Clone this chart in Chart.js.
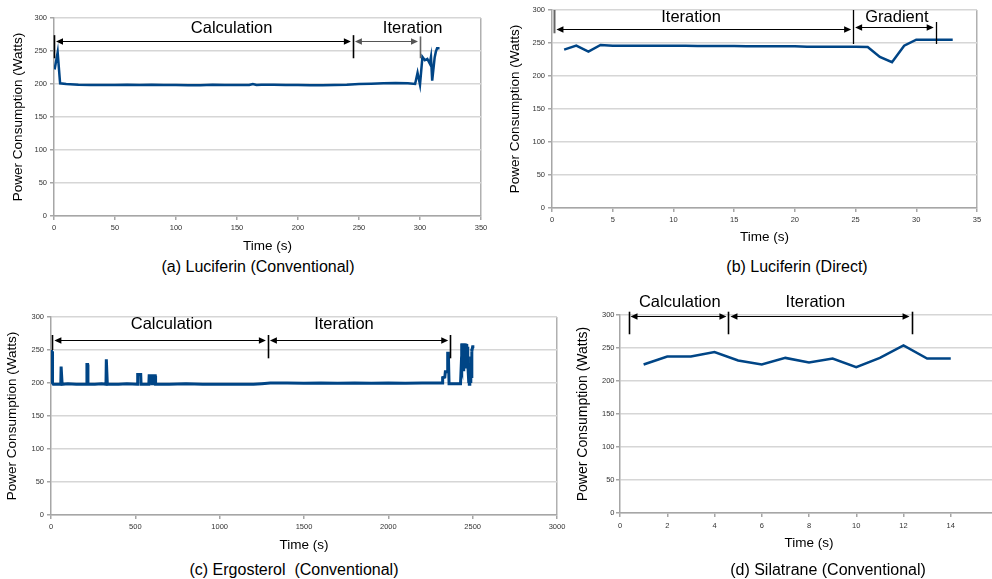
<!DOCTYPE html>
<html>
<head>
<meta charset="utf-8">
<script src="https://cdn.jsdelivr.net/npm/chart.js"></script>
<style>
  html, body { margin: 0; padding: 0; background: #fff; overflow: hidden; width: 992px; height: 579px; }
  canvas { position: absolute; }
  .cap { position: absolute; font: 16px "Liberation Sans", Arial, sans-serif; color: #000; white-space: pre; transform: translateX(-50%); line-height: 16px; }
</style>
</head>
<body>
<canvas id="chartA" width="495" height="254" style="left:0px;top:0px"></canvas>
<canvas id="chartB" width="492" height="245" style="left:497px;top:0px"></canvas>
<canvas id="chartC" width="571" height="263" style="left:0px;top:290px"></canvas>
<canvas id="chartD" width="445" height="261" style="left:565px;top:290px"></canvas>
<div class="cap" style="left:258px;top:259px">(a) Luciferin (Conventional)</div>
<div class="cap" style="left:797px;top:259px">(b) Luciferin (Direct)</div>
<div class="cap" style="left:294px;top:562px">(c) Ergosterol  (Conventional)</div>
<div class="cap" style="left:828px;top:562px">(d) Silatrane (Conventional)</div>
<script>
// (a) Luciferin, conventional run
const timeA = [0.5, 3, 5, 10, 20, 30, 40, 50, 60, 70, 80, 90, 100, 110, 120, 130, 140, 150, 160, 163, 166, 170, 180, 190, 200, 210, 220, 230, 240, 250, 260, 270, 280, 290, 296, 298, 300, 302, 304, 306, 308, 309, 310, 312, 313, 314, 316];
const powerA = [222, 248, 201, 200, 199, 198.5, 198.5, 198.5, 199, 198.5, 199, 198.5, 198.5, 198, 198, 199, 198.5, 198.5, 198.5, 200, 198.5, 199, 199, 198.5, 198.5, 198, 198, 198.5, 199, 200, 200.5, 201, 201.5, 201, 200, 217, 199, 241, 236, 238, 231, 241, 205, 240, 249, 254, 254];

// (b) Luciferin, direct run (one sample per second)
const timeB = [1, 2, 3, 4, 5, 6, 7, 8, 9, 10, 11, 12, 13, 14, 15, 16, 17, 18, 19, 20, 21, 22, 23, 24, 25, 26, 27, 28, 29, 30, 31, 32, 33];
const powerB = [240, 246, 237, 247, 246, 246, 246, 246, 246, 246, 246, 245.5, 245.5, 245.5, 245.5, 245, 245, 245, 245, 245, 244.5, 244.5, 244.5, 244.5, 244.5, 244, 229, 221, 246, 255, 255, 255, 255];

// (c) Ergosterol, conventional run
const timeC = [0, 2, 4, 6, 8, 10, 14, 30, 58, 60, 64, 66, 100, 150, 210, 213, 217, 219, 260, 300, 326, 328, 332, 334, 400, 450, 512, 514, 532, 534, 580, 582, 596, 598, 602, 604, 618, 620, 700, 800, 900, 1000, 1100, 1200, 1250, 1300, 1400, 1500, 1600, 1700, 1800, 1900, 2000, 2100, 2200, 2300, 2320, 2322, 2335, 2338, 2348, 2352, 2356, 2360, 2400, 2428, 2432, 2434, 2436, 2438, 2440, 2442, 2444, 2446, 2448, 2450, 2452, 2454, 2456, 2458, 2460, 2462, 2464, 2466, 2468, 2470, 2472, 2474, 2476, 2478, 2480, 2482, 2484, 2486, 2488, 2490, 2492, 2494, 2496, 2500, 2510];
const powerC = [215, 250, 222, 248, 232, 200, 198, 198, 198, 225, 225, 198, 199, 198, 198, 228, 228, 198, 198, 199, 198, 236, 236, 198, 198, 199, 198, 213, 213, 198, 198, 211, 211, 199, 199, 211, 211, 198, 198, 199, 198, 198, 198, 198, 199, 200, 200, 199.5, 200, 199.5, 200, 199.5, 200, 199.5, 200, 200, 200, 208, 209, 217, 217, 245, 245, 199, 199, 199, 225, 260, 222, 260, 228, 260, 220, 260, 230, 260, 225, 258, 232, 260, 222, 259, 228, 258, 225, 255, 230, 215, 200, 220, 198, 225, 199, 230, 200, 240, 210, 252, 248, 255, 255];

// (d) Silatrane, conventional run
const timeD = [1, 2, 3, 4, 5, 6, 7, 8, 9, 10, 11, 12, 13, 14];
const powerD = [225, 237, 237, 244, 231, 225, 235, 228, 234, 221, 235, 254, 234, 234];

const lineColor = '#004586';
const fontFamily = '"Liberation Sans", Arial, sans-serif';

// phase markers: vertical bars, double arrows and labels, placed in data units
const phasePlugin = {
    id: 'phases',
    afterDraw(chart, args, opts) {
        const ctx = chart.ctx;
        const x = chart.scales.x, y = chart.scales.y;
        ctx.save();
        (opts.bars || []).forEach(b => {
            const px = Math.round(x.getPixelForValue(b.x)) + 0.5;
            ctx.strokeStyle = b.color || '#000';
            ctx.lineWidth = b.width || 1.6;
            ctx.beginPath();
            ctx.moveTo(px, y.getPixelForValue(b.from));
            ctx.lineTo(px, y.getPixelForValue(b.to));
            ctx.stroke();
        });
        (opts.arrows || []).forEach(a => {
            const x1 = x.getPixelForValue(a.from) + 2;
            const x2 = x.getPixelForValue(a.to) - 2;
            const py = Math.round(y.getPixelForValue(a.y)) + 0.5;
            ctx.strokeStyle = a.color || '#000';
            ctx.fillStyle = a.color || '#000';
            ctx.lineWidth = 1.2;
            ctx.beginPath();
            ctx.moveTo(x1 + 4, py);
            ctx.lineTo(x2 - 4, py);
            ctx.stroke();
            ctx.beginPath();
            ctx.moveTo(x1, py);
            ctx.lineTo(x1 + 7, py - 3.2);
            ctx.lineTo(x1 + 7, py + 3.2);
            ctx.closePath();
            ctx.fill();
            ctx.beginPath();
            ctx.moveTo(x2, py);
            ctx.lineTo(x2 - 7, py - 3.2);
            ctx.lineTo(x2 - 7, py + 3.2);
            ctx.closePath();
            ctx.fill();
        });
        ctx.fillStyle = '#000';
        ctx.font = '16.5px ' + fontFamily;
        ctx.textAlign = 'center';
        ctx.textBaseline = 'middle';
        (opts.labels || []).forEach(l => {
            ctx.fillText(l.text, x.getPixelForValue(l.x), y.getPixelForValue(l.y));
        });
        ctx.restore();
    }
};

function makeChart(id, t, p, o) {
    const config = {
        type: 'line',
        data: {
            datasets: [{
                data: t.map((v, i) => ({x: v, y: p[i]})),
                borderColor: lineColor,
                borderWidth: o.lineWidth || 2.5,
                pointRadius: 0,
                tension: 0,
                fill: false
            }]
        },
        options: {
            responsive: false,
            animation: false,
            events: [],
            layout: {padding: {top: o.padTop, right: o.padRight, left: 0, bottom: 0}},
            plugins: {
                legend: {display: false},
                tooltip: {enabled: false},
                phases: o.phases
            },
            scales: {
                x: {
                    type: 'linear',
                    min: 0,
                    max: o.xMax,
                    afterFit: s => { s.height = o.xHeight; },
                    afterBuildTicks: s => {
                        s.ticks = [];
                        for (let v = 0; v <= o.xMax; v += o.xStep) s.ticks.push({value: v});
                    },
                    ticks: {
                        color: '#333',
                        padding: o.xTickPad || 3,
                        maxRotation: 0,
                        autoSkip: false,
                        callback: v => String(v),
                        font: {family: fontFamily, size: 7.5}
                    },
                    grid: {
                        color: c => (c.tick && c.tick.value === o.xMax) ? '#b0b0b0' : 'rgba(0,0,0,0)',
                        lineWidth: 1.5,
                        tickColor: '#a6a6a6',
                        tickLength: 4
                    },
                    border: {color: '#a6a6a6', width: 1.5},
                    title: {
                        display: true,
                        text: 'Time (s)',
                        color: '#000',
                        padding: {top: 0, bottom: 0},
                        font: {family: fontFamily, size: 13.5}
                    }
                },
                y: {
                    min: 0,
                    max: 300,
                    afterFit: s => { s.width = o.yWidth; },
                    ticks: {
                        stepSize: 50,
                        color: '#333',
                        padding: o.yTickPad || 3,
                        callback: v => String(v),
                        font: {family: fontFamily, size: 7.5}
                    },
                    grid: {
                        color: '#d6d6d6',
                        lineWidth: 1.5,
                        tickColor: '#a6a6a6',
                        tickLength: 4
                    },
                    border: {color: '#a6a6a6', width: 1.5},
                    title: {
                        display: true,
                        text: 'Power Consumption (Watts)',
                        color: '#000',
                        padding: {top: o.yTitlePad, bottom: 0},
                        font: {family: fontFamily, size: o.yTitleSize || 13.5}
                    }
                }
            }
        },
        plugins: [phasePlugin]
    };
    return new Chart(document.getElementById(id), config);
}

makeChart('chartA', timeA, powerA, {
    xMax: 350, xStep: 50, padTop: 18, padRight: 14, yWidth: 54, xHeight: 38, yTitlePad: 10.2,
    phases: {
        bars: [
            {x: 0, from: 274, to: 239},
            {x: 245, from: 274, to: 239},
            {x: 300, from: 272, to: 239, color: '#666'}
        ],
        arrows: [
            {from: 0, to: 245, y: 265.6},
            {from: 245, to: 300, y: 265.6, color: '#555'}
        ],
        labels: [
            {text: 'Calculation', x: 145.6, y: 284.4},
            {text: 'Iteration', x: 294, y: 284.4}
        ]
    }
});

makeChart('chartB', timeB, powerB, {
    xMax: 35, xStep: 5, padTop: 10, padRight: 12, yWidth: 55, xHeight: 37, yTitlePad: 10.6,
    phases: {
        bars: [
            {x: 0.2, from: 300, to: 264.7, color: '#666', width: 2},
            {x: 24.8, from: 300, to: 248.5, width: 1.3},
            {x: 31.6, from: 281.8, to: 248.5, width: 1.3}
        ],
        arrows: [
            {from: 0.2, to: 24.8, y: 271.7},
            {from: 24.8, to: 31.6, y: 274.8}
        ],
        labels: [
            {text: 'Iteration', x: 11.45, y: 289},
            {text: 'Gradient', x: 28.4, y: 289}
        ]
    }
});

makeChart('chartC', timeC, powerC, {
    xMax: 3000, xStep: 500, padTop: 27, padRight: 14, yWidth: 51, xHeight: 38, yTitlePad: 3.9, lineWidth: 3,
    phases: {
        bars: [
            {x: 8, from: 272.7, to: 250},
            {x: 1286, from: 272.7, to: 237.4},
            {x: 2367, from: 272.7, to: 237.4}
        ],
        arrows: [
            {from: 8, to: 1286, y: 264.7},
            {from: 1286, to: 2367, y: 264.7}
        ],
        labels: [
            {text: 'Calculation', x: 715, y: 289},
            {text: 'Iteration', x: 1737, y: 289}
        ]
    }
});

makeChart('chartD', timeD, powerD, {
    xMax: 16, xStep: 2, padTop: 25, padRight: 12, yWidth: 55, xHeight: 38, yTitlePad: 9.9, yTitleSize: 14,
    yTickPad: 1.5, xTickPad: 4,
    phases: {
        bars: [
            {x: 0.36, from: 305, to: 270.8},
            {x: 4.59, from: 305, to: 270.8},
            {x: 12.34, from: 305, to: 270.8}
        ],
        arrows: [
            {from: 0.36, to: 4.59, y: 299},
            {from: 4.59, to: 12.34, y: 299}
        ],
        labels: [
            {text: 'Calculation', x: 2.53, y: 318.6},
            {text: 'Iteration', x: 8.27, y: 318.6}
        ]
    }
});
</script>
</body>
</html>
